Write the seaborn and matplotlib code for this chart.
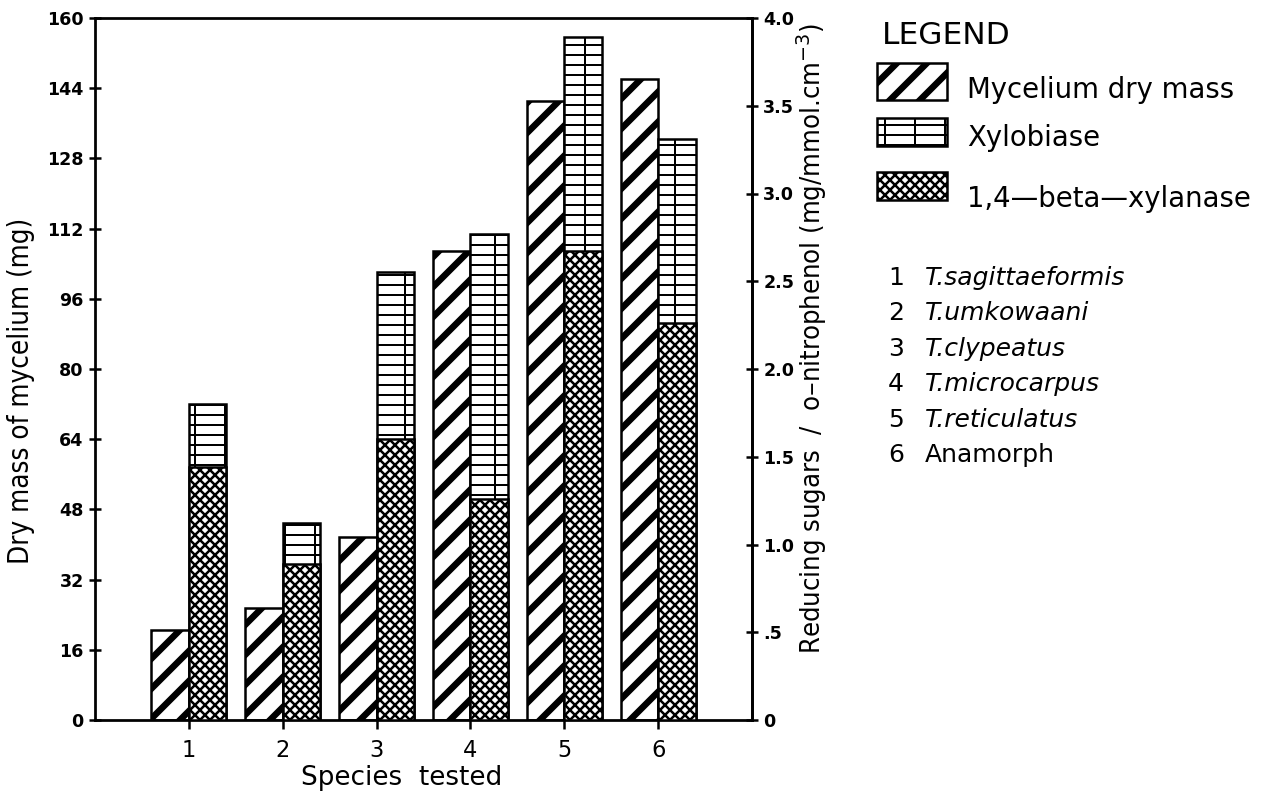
import matplotlib
matplotlib.use("Agg")
import matplotlib.pyplot as plt
from matplotlib import font_manager
from matplotlib.font_manager import FontProperties
from matplotlib.patches import Rectangle
import numpy as np
import pandas as pd
import seaborn as sns

# ---- data ----
species = [1, 2, 3, 4, 5, 6]
species_names = ["T.sagittaeformis", "T.umkowaani", "T.clypeatus",
                 "T.microcarpus", "T.reticulatus", "Anamorph"]
species_italic = [True, True, True, True, True, False]
mycelium_mg = [20.5, 25.5, 41.7, 107.0, 141.0, 146.0]   # left axis (mg)
xylobiase = [1.80, 1.12, 2.55, 2.77, 3.89, 3.31]        # right axis
xylanase = [1.44, 0.89, 1.60, 1.26, 2.67, 2.26]         # right axis
left_ticks = [0, 16, 32, 48, 64, 80, 96, 112, 128, 144, 160]
right_ticks = [0.0, 0.5, 1.0, 1.5, 2.0, 2.5, 3.0, 3.5, 4.0]
right_tick_labels = ["0", ".5", "1.0", "1.5", "2.0", "2.5", "3.0", "3.5", "4.0"]
series_labels = ["Mycelium dry mass", "Xylobiase", "1,4\u2014beta\u2014xylanase"]

W, H, DPI = 1264, 799, 180

sns.set_style("ticks")
plt.rcParams.update({
    "font.family": ["DejaVu Sans"],
    "text.color": "black",
    "axes.labelcolor": "black",
    "axes.edgecolor": "black",
    "xtick.color": "black",
    "ytick.color": "black",
    "hatch.color": "black",
    "hatch.linewidth": 1.2,
})


def narrow_font():
    """A condensed sans-serif face for the axis titles, if one is installed."""
    best = None
    for e in font_manager.fontManager.ttflist:
        f = e.fname.lower()
        if not any(k in f for k in ("narrow", "condensed", "cond")):
            continue
        if e.style != "normal" or e.weight not in (400, "normal", "regular"):
            continue
        rank = 0 if "liberation" in f else 1 if "dejavu" in f else 2
        if best is None or rank < best[0]:
            best = (rank, e.fname)
    if best is None:
        return FontProperties(family="DejaVu Sans")
    return FontProperties(fname=best[1])


HATCHES = {"myc": ("//", 2.6), "xyb": ("---|", 0.8), "xyl": ("xxxxxx", 1.0)}


def style_patch(p, key):
    hatch, lw = HATCHES[key]
    p.set_hatch(hatch)
    if hasattr(p, "set_hatch_linewidth"):
        p.set_hatch_linewidth(lw)


fig = plt.figure(figsize=(W / DPI, H / DPI), dpi=DPI)
fig.patch.set_facecolor("white")
L, R, T, B = 95, 752, 18, 720
ax = fig.add_axes([L / W, 1 - B / H, (R - L) / W, (B - T) / H])
ax2 = ax.twinx()

offset = 0.2
df_myc = pd.DataFrame({"x": np.array(species) - offset, "mg": mycelium_mg})
df_enz = pd.DataFrame({"x": np.array(species) + offset,
                       "xylobiase": xylobiase, "xylanase": xylanase})

bar_kw = dict(native_scale=True, width=0.4, color="white", saturation=1,
              edgecolor="black", linewidth=1.0, errorbar=None)

sns.barplot(data=df_myc, x="x", y="mg", ax=ax, **bar_kw)
for p in ax.containers[-1]:
    style_patch(p, "myc")
sns.barplot(data=df_enz, x="x", y="xylobiase", ax=ax2, **bar_kw)
for p in ax2.containers[-1]:
    style_patch(p, "xyb")
sns.barplot(data=df_enz, x="x", y="xylanase", ax=ax2, **bar_kw)
for p in ax2.containers[-1]:
    style_patch(p, "xyl")

# ---- axes ----
ax.set_xlim(0, 7)
ax.set_ylim(0, 160)
ax2.set_ylim(0, 4)
ax.set_xticks(species)
ax.set_xticklabels([str(s) for s in species], fontsize=9)
ax.set_yticks(left_ticks)
ax.set_yticklabels([str(v) for v in left_ticks], fontsize=7, fontweight="bold")
ax2.set_yticks(right_ticks)
ax2.set_yticklabels(right_tick_labels, fontsize=7, fontweight="bold")
ax.tick_params(axis="y", direction="inout", length=5, width=1.0, pad=2)
ax.tick_params(axis="x", direction="out", length=3.5, width=1.0, pad=4)
ax2.tick_params(axis="y", direction="inout", length=5, width=1.0, pad=2)
for sp in ax.spines.values():
    sp.set_visible(True)
    sp.set_linewidth(1.1)
for name, sp in ax2.spines.items():
    sp.set_visible(name == "right")
    sp.set_linewidth(1.1)

ax.set_xlabel("Species  tested", fontsize=10.5)
ax.xaxis.set_label_coords(0.466, -0.064)

narrow = narrow_font()
ax.set_ylabel("Dry mass of mycelium (mg)", fontproperties=narrow)
ax.yaxis.set_label_coords(-0.091, 0.469)
ax2.set_ylabel("Reducing sugars  /  o\u2013nitrophenol (mg/mmol.cm$^{-3}$)",
               fontproperties=narrow)
ax2.yaxis.set_label_coords(1.065, 0.544)

# size the vertical axis titles to their run lengths
fig.canvas.draw()
renderer = fig.canvas.get_renderer()
for lab, length_px in ((ax.yaxis.label, 347), (ax2.yaxis.label, 633)):
    lab.set_fontsize(12)
    cur = lab.get_window_extent(renderer).height
    lab.set_fontsize(12 * length_px / cur)


# ---- legend ----
def fx(px):
    return px / W


def fy(py):
    return 1 - py / H


fig.text(fx(882), fy(21), "LEGEND", fontsize=12.5, ha="left", va="top")
legend_rows = [("myc", 63, 37, 98), ("xyb", 118, 28, 146), ("xyl", 172, 28, 207)]
for (key, top, h, base), label in zip(legend_rows, series_labels):
    rect = Rectangle((fx(877), fy(top + h)), 70 / W, h / H, transform=fig.transFigure,
                     facecolor="white", edgecolor="black", linewidth=1.0)
    style_patch(rect, key)
    fig.add_artist(rect)
    fig.text(fx(967), fy(base), label, fontsize=11, ha="left", va="baseline")

# ---- species key ----
for i, (num, name, ital) in enumerate(zip(species, species_names, species_italic)):
    base = 285 + i * 35.4
    fig.text(fx(888), fy(base), str(num), fontsize=10, ha="left", va="baseline")
    fig.text(fx(925), fy(base), name, fontsize=10, ha="left", va="baseline",
             style="italic" if ital else "normal")

fig.savefig("out.png", dpi=DPI, facecolor="white")
